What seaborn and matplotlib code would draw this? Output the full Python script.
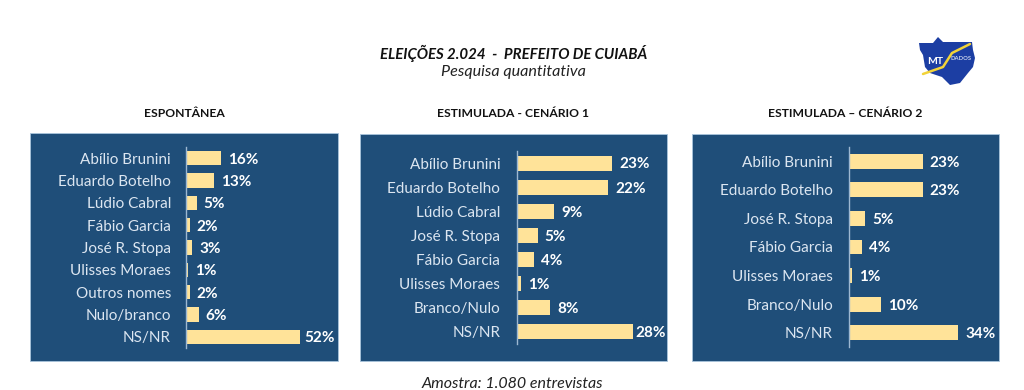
import matplotlib
matplotlib.use("Agg")
import matplotlib.pyplot as plt
from matplotlib.patches import Rectangle, Polygon
import pandas as pd
import seaborn as sns

sns.set_theme(style="white")
plt.rcParams["font.family"] = ["Lato", "DejaVu Sans"]

W, H = 1024, 390
NAVY = "#1f4e79"
BAR = "#ffe399"
SPINE = "#9db8d2"

titles = ["ESPONTÂNEA", "ESTIMULADA - CENÁRIO 1", "ESTIMULADA – CENÁRIO 2"]
cats_1 = ["Abílio Brunini", "Eduardo Botelho", "Lúdio Cabral", "Fábio Garcia", "José R. Stopa",
          "Ulisses Moraes", "Outros nomes", "Nulo/branco", "NS/NR"]
vals_1 = [16, 13, 5, 2, 3, 1, 2, 6, 52]
cats_2 = ["Abílio Brunini", "Eduardo Botelho", "Lúdio Cabral", "José R. Stopa", "Fábio Garcia",
          "Ulisses Moraes", "Branco/Nulo", "NS/NR"]
vals_2 = [23, 22, 9, 5, 4, 1, 8, 28]
cats_3 = ["Abílio Brunini", "Eduardo Botelho", "José R. Stopa", "Fábio Garcia",
          "Ulisses Moraes", "Branco/Nulo", "NS/NR"]
vals_3 = [23, 23, 5, 4, 1, 10, 34]

# panel box (l, r, t, b), spine x, spine top/bottom, px per %, bar share, title centre, pads
layouts = [
    dict(box=(30, 338, 133, 361), sx=185.5, st=147, sb=348, ppu=2.21, bw=0.63, tx=184, last=3, pad=10.5),
    dict(box=(360, 667, 134, 361), sx=517, st=151, sb=344, ppu=4.14, bw=0.62, tx=513, last=2, pad=12),
    dict(box=(692, 999, 134, 361), sx=849, st=147, sb=347, ppu=3.21, bw=0.52, tx=845, last=5, pad=11.5),
]
series = [(cats_1, vals_1), (cats_2, vals_2), (cats_3, vals_3)]

fig = plt.figure(figsize=(W / 100, H / 100), dpi=100, facecolor="white")


def fx(x):
    return x / W


def fy(y):
    return 1 - y / H


for title, (cats, vals), lay in zip(titles, series, layouts):
    l, r, t, b = lay["box"]
    fig.add_artist(Rectangle((fx(l), fy(b)), (r - l) / W, (b - t) / H, transform=fig.transFigure,
                             facecolor=NAVY, edgecolor="#a9c4dc", linewidth=0.6, zorder=0))
    fig.text(fx(lay["tx"]), fy(113), title, ha="center", va="center",
             fontsize=8.7, fontweight="bold", color="#111111")
    ax = fig.add_axes([fx(lay["sx"]), fy(lay["sb"]), (r - lay["sx"]) / W, (lay["sb"] - lay["st"]) / H])
    ax.patch.set_alpha(0)
    df = pd.DataFrame({"cat": cats, "val": vals})
    sns.barplot(data=df, x="val", y="cat", orient="h", color=BAR, saturation=1,
                width=lay["bw"], linewidth=0, ax=ax)
    ax.set_xlim(0, (r - lay["sx"]) / lay["ppu"])
    ax.set_ylim(len(cats) - 0.5, -0.5)
    ax.set_xlabel("")
    ax.set_ylabel("")
    ax.set_xticks([])
    ax.tick_params(axis="y", length=0, pad=lay["pad"], labelsize=11, labelcolor="#dce6f1")
    for s in ("top", "right", "bottom"):
        ax.spines[s].set_visible(False)
    ax.spines["left"].set_color(SPINE)
    ax.spines["left"].set_linewidth(1.0)
    for c in ax.containers:
        labels = ax.bar_label(c, labels=[f"{v}%" for v in vals], padding=5, color="white",
                              fontsize=11, fontweight="bold", clip_on=False)
        for lab in labels:
            lab.xyann = (5, -1)
        labels[-1].xyann = (lay["last"], -1)

fig.text(fx(513.5), fy(53), "ELEIÇÕES 2.024  -  PREFEITO DE CUIABÁ", ha="center", va="center",
         fontsize=10.8, fontweight="bold", fontstyle="italic", color="#111111")
fig.text(fx(513.5), fy(72), "Pesquisa quantitativa", ha="center", va="center",
         fontsize=11.6, fontstyle="italic", color="#222222")
fig.text(fx(512.5), fy(384), "Amostra: 1.080 entrevistas", ha="center", va="center",
         fontsize=11.5, fontstyle="italic", color="#222222")

# logo
logo_shape = [(919, 43), (933, 43), (938, 37), (943, 42), (972, 42), (973, 50), (975, 58), (973, 67),
              (968, 73), (960, 83), (950, 85), (942, 77), (930, 73), (925, 67), (923, 55), (920, 50)]
fig.add_artist(Polygon([(fx(x), fy(y)) for x, y in logo_shape], transform=fig.transFigure,
                       facecolor="#1c3ea3", edgecolor="none"))
arrow_x = [fx(v) for v in (923, 943, 952, 970)]
arrow_y = [fy(v) for v in (74, 67, 53, 44)]
fig.add_artist(plt.Line2D(arrow_x, arrow_y, transform=fig.transFigure, color="#f2d338", linewidth=1.8))
fig.text(fx(935), fy(62), "MT", ha="center", va="center", fontsize=7.5, fontweight="bold", color="white")
fig.text(fx(961), fy(59), "DADOS", ha="center", va="center", fontsize=4.2, fontweight="bold", color="#c9d4ec")

fig.savefig("out.png", dpi=100)
